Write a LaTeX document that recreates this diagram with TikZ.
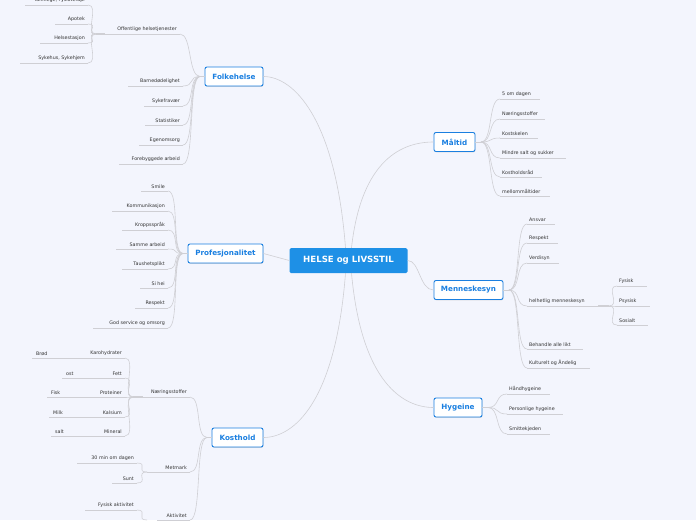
\documentclass[tikz,border=0pt]{standalone}
\usepackage{fontspec}
\setmainfont{DejaVu Sans}
\usetikzlibrary{shadows}
\definecolor{bg}{HTML}{F3F5FD}
\definecolor{mblue}{HTML}{1A7FE0}
\definecolor{cblue}{HTML}{1E90E6}
\definecolor{lgray}{HTML}{CFCFD4}
\tikzset{
 x=1pt,y=-1pt,
 leaftxt/.style={font=\fontsize{4.8}{5}\selectfont,text=black!80,inner sep=1pt},
 uline/.style={draw=lgray,line width=0.6pt},
 conn/.style={draw=lgray,line width=0.6pt},
 mainbox/.style={draw=mblue,fill=white,line width=0.9pt,rounded corners=2pt,text=mblue,font=\fontsize{7.2}{8}\selectfont\bfseries,drop shadow={shadow xshift=0.4pt,shadow yshift=-0.8pt,opacity=0.25},inner sep=0pt},
 centbox/.style={fill=cblue,rounded corners=1.5pt,text=white,font=\fontsize{8.6}{9}\selectfont\bfseries,inner sep=0pt},
}
\newcommand{\lleaf}[6]{%
 \coordinate (#1a) at (#2,#4); \coordinate (#1b) at (#3,#4);
 \draw[uline] (#1a)--(#1b);
 \node[leaftxt,anchor=south east] (#1) at ([xshift=-2pt,yshift=1pt]#1b) {#5};
 \draw[conn] (#1b) .. controls ([xshift=12pt]#1b) and ([xshift=-12pt]#6) .. (#6);}
\newcommand{\rleaf}[6]{%
 \coordinate (#1a) at (#2,#4); \coordinate (#1b) at (#3,#4);
 \draw[uline] (#1a)--(#1b);
 \node[leaftxt,anchor=south west] (#1) at ([xshift=1pt,yshift=1pt]#1a) {#5};
 \draw[conn] (#1a) .. controls ([xshift=-12pt]#1a) and ([xshift=12pt]#6) .. (#6);}
\newcommand{\gleaf}[5]{%
 \draw[uline] (#2,#4)--(#3,#4);
 \node[leaftxt,anchor=south west] (#1) at (#2+3,#4-1) {#5};}
\begin{document}
\begin{tikzpicture}
\fill[bg] (0,0) rectangle (696,520);
\clip (0,0) rectangle (696,520);
\useasboundingbox (0,0) rectangle (696,520);

\node[centbox,minimum width=118pt,minimum height=25pt] (c) at (348.5,260.5) {HELSE og LIVSSTIL};
\node[mainbox,minimum width=58pt,minimum height=19pt] (fh) at (234,76.5) {Folkehelse};
\node[mainbox,minimum width=75pt,minimum height=19pt] (pr) at (225.5,253.5) {Profesjonalitet};
\node[mainbox,minimum width=51pt,minimum height=19pt] (ko) at (237.5,437.5) {Kosthold};
\node[mainbox,minimum width=41pt,minimum height=19pt] (ma) at (454.5,142) {Måltid};
\node[mainbox,minimum width=69pt,minimum height=19pt] (me) at (468.5,290) {Menneskesyn};
\node[mainbox,minimum width=48pt,minimum height=19pt] (hy) at (458,407.5) {Hygeine};

\draw[conn] (c.north)+(-3,0) .. controls +(-10,-130) and +(30,0) .. (fh.east);
\draw[conn] (c.west) -- (pr.east);
\draw[conn] (c.south)+(-3,0) .. controls +(-10,130) and +(30,0) .. (ko.east);
\draw[conn] (c.north)+(3,0) .. controls +(10,-90) and +(-30,0) .. (ma.west);
\draw[conn] (c.east) .. controls +(12,0) and +(-14,0) .. (me.west);
\draw[conn] (c.south)+(3,0) .. controls +(10,110) and +(-30,0) .. (hy.west);

\coordinate (fhp) at (200,76.5);
\draw[conn] (fhp)--(fh.west);
\lleaf{off}{105}{180}{34}{Offentlige helsetjenester}{fhp}
\coordinate (offp) at (96,34);
\draw[conn,line width=1.2pt] (offp)--(105,34);
\lleaf{tan}{25}{88}{5}{Tannlege, Fysioterapi}{offp}
\lleaf{apo}{55}{88}{24}{Apotek}{offp}
\lleaf{hst}{40}{88}{43}{Helsestasjon}{offp}
\lleaf{syk}{20}{88}{63}{Sykehus, Sykehjem}{offp}
\lleaf{bar}{128}{183}{86}{Barnedødelighet}{fhp}
\lleaf{syf}{144}{183}{106}{Sykefravær}{fhp}
\lleaf{sta}{145}{183}{125}{Statistiker}{fhp}
\lleaf{ego}{139}{183}{145}{Egenomsorg}{fhp}
\lleaf{for}{119}{183}{164}{Forebyggede arbeid}{fhp}

\coordinate (prp) at (183,253.5);
\draw[conn] (prp)--(pr.west);
\lleaf{smi}{141}{168}{191}{Smile}{prp}
\lleaf{kom}{112}{168}{211}{Kommunikasjon}{prp}
\lleaf{kro}{122}{168}{230}{Kroppsspråk}{prp}
\lleaf{sam}{116}{168}{249}{Samme arbeid}{prp}
\lleaf{tau}{122}{168}{269}{Taushetsplikt}{prp}
\lleaf{sih}{140}{168}{288}{Si hei}{prp}
\lleaf{res}{135}{168}{308}{Respekt}{prp}
\lleaf{god}{93}{168}{328}{God service og omsorg}{prp}

\coordinate (kop) at (207,437.5);
\draw[conn] (kop)--(ko.west);
\lleaf{nae}{143}{190}{397}{Næringsstoffer}{kop}
\coordinate (naep) at (133,397);
\draw[conn,line width=1.2pt] (naep)--(143,397);
\lleaf{kar}{78}{125}{358}{Karohydrater}{naep}
\gleaf{bro}{32}{78}{358}{Brød}
\lleaf{fet}{103}{125}{378}{Fett}{naep}
\gleaf{ost}{62}{103}{378}{ost}
\lleaf{pro}{90}{125}{397}{Proteiner}{naep}
\gleaf{fis}{47}{90}{397}{Fisk}
\lleaf{kal}{92}{125}{417}{Kalsium}{naep}
\gleaf{mil}{49}{92}{417}{Milk}
\lleaf{min}{93}{125}{436}{Mineral}{naep}
\gleaf{sal}{51}{93}{436}{salt}
\lleaf{met}{147}{190}{472}{Metmark}{kop}
\coordinate (metp) at (147,472);
\lleaf{trm}{77}{137}{463}{30 min om dagen}{metp}
\lleaf{sun}{112}{137}{483}{Sunt}{metp}
\lleaf{akt}{157}{190}{520}{Aktivitet}{kop}
\coordinate (aktp) at (147,520);
\lleaf{fys}{85}{137}{510}{Fysisk aktivitet}{aktp}

\coordinate (map) at (481,142);
\draw[conn] (ma.east)--(map);
\rleaf{om5}{500}{540}{99}{5 om dagen}{map}
\rleaf{nae2}{500}{545}{119}{Næringsstoffer}{map}
\rleaf{kos}{500}{538}{138}{Kostskelen}{map}
\rleaf{mss}{500}{566}{158}{Mindre salt og sukker}{map}
\rleaf{kra}{500}{542}{177}{Kostholdsråd}{map}
\rleaf{mel}{500}{550}{196}{mellommåltider}{map}

\coordinate (mep) at (509,290);
\draw[conn] (me.east)--(mep);
\rleaf{ans}{527}{555}{224}{Ansvar}{mep}
\rleaf{res2}{527}{558}{243}{Respekt}{mep}
\rleaf{ver}{527}{559}{263}{Verdisyn}{mep}
\rleaf{hel}{527}{598}{306}{helhetlig menneskesyn}{mep}
\coordinate (help) at (609,306);
\draw[conn,line width=1.2pt] (598,306)--(help);
\rleaf{fy}{617}{647}{286}{Fysisk}{help}
\rleaf{ps}{617}{650}{306}{Psysisk}{help}
\rleaf{so}{617}{648}{325}{Sosialt}{help}
\rleaf{beh}{527}{583}{349}{Behandle alle likt}{mep}
\rleaf{kul}{527}{590}{368}{Kulturelt og Åndelig}{mep}

\coordinate (hyp) at (488,407.5);
\draw[conn] (hy.east)--(hyp);
\rleaf{han}{507}{550}{394}{Håndhygeine}{hyp}
\rleaf{per}{507}{563}{414}{Personlige hygeine}{hyp}
\rleaf{smt}{507}{550}{434}{Smittekjeden}{hyp}
\end{tikzpicture}
\end{document}
